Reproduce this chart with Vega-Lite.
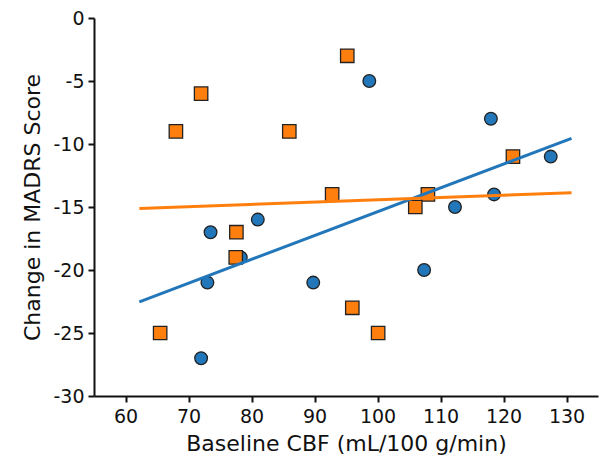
{
  "$schema": "https://vega.github.io/schema/vega-lite/v6.json",
  "width": 504,
  "height": 378,
  "autosize": {"type": "none"},
  "padding": {"left": 94, "top": 18, "right": 4, "bottom": 62},
  "background": "white",
  "config": {
    "view": {"stroke": null},
    "font": "DejaVu Sans",
    "axis": {
      "grid": false,
      "domainColor": "#111",
      "domainWidth": 2,
      "tickColor": "#111",
      "tickWidth": 2,
      "tickSize": 6,
      "labelFont": "DejaVu Sans",
      "labelFontSize": 19,
      "labelColor": "#111",
      "labelPadding": 4,
      "titleFont": "DejaVu Sans",
      "titleFontSize": 22,
      "titleFontWeight": "normal",
      "titleColor": "#111"
    }
  },
  "data": {
    "values": [
      {"x": 73.5, "y": -17, "g": "A"},
      {"x": 81, "y": -16, "g": "A"},
      {"x": 73, "y": -21, "g": "A"},
      {"x": 89.8, "y": -21, "g": "A"},
      {"x": 72, "y": -27, "g": "A"},
      {"x": 98.7, "y": -5, "g": "A"},
      {"x": 118, "y": -8, "g": "A"},
      {"x": 127.5, "y": -11, "g": "A"},
      {"x": 112.3, "y": -15, "g": "A"},
      {"x": 118.5, "y": -14, "g": "A"},
      {"x": 107.4, "y": -20, "g": "A"},
      {"x": 78.3, "y": -19, "g": "A"},
      {"x": 72, "y": -6, "g": "B"},
      {"x": 68, "y": -9, "g": "B"},
      {"x": 86, "y": -9, "g": "B"},
      {"x": 92.8, "y": -14, "g": "B"},
      {"x": 77.6, "y": -17, "g": "B"},
      {"x": 77.5, "y": -19, "g": "B"},
      {"x": 65.5, "y": -25, "g": "B"},
      {"x": 95.2, "y": -3, "g": "B"},
      {"x": 121.5, "y": -11, "g": "B"},
      {"x": 108, "y": -14, "g": "B"},
      {"x": 106, "y": -15, "g": "B"},
      {"x": 96, "y": -23, "g": "B"},
      {"x": 100.1, "y": -25, "g": "B"}
    ]
  },
  "encoding": {
    "x": {
      "field": "x", "type": "quantitative",
      "scale": {"domain": [55, 135], "nice": false, "zero": false},
      "axis": {"values": [60, 70, 80, 90, 100, 110, 120, 130], "title": "Baseline CBF (mL/100 g/min)", "titlePadding": 7, "labelPadding": 5}
    },
    "y": {
      "field": "y", "type": "quantitative",
      "scale": {"domain": [-30, 0], "nice": false},
      "axis": {"values": [0, -5, -10, -15, -20, -25, -30], "labelExpr": "datum.value + ''", "title": "Change in MADRS Score", "titlePadding": 8}
    },
    "color": {
      "field": "g", "type": "nominal",
      "scale": {"domain": ["A", "B"], "range": ["#2277bb", "#ff7f0e"]},
      "legend": null
    }
  },
  "layer": [
    {
      "transform": [{"filter": "datum.g == 'A'"}],
      "mark": {"type": "point", "shape": "circle", "filled": true, "size": 160, "stroke": "#222", "strokeWidth": 1.3, "opacity": 1}
    },
    {
      "transform": [{"filter": "datum.g == 'B'"}],
      "mark": {"type": "point", "shape": "square", "filled": true, "size": 180, "stroke": "#222", "strokeWidth": 1.3, "opacity": 1}
    },
    {
      "transform": [{"regression": "y", "on": "x", "groupby": ["g"], "extent": [62.2, 130.8]}],
      "mark": {"type": "line", "strokeWidth": 3}
    }
  ]
}
